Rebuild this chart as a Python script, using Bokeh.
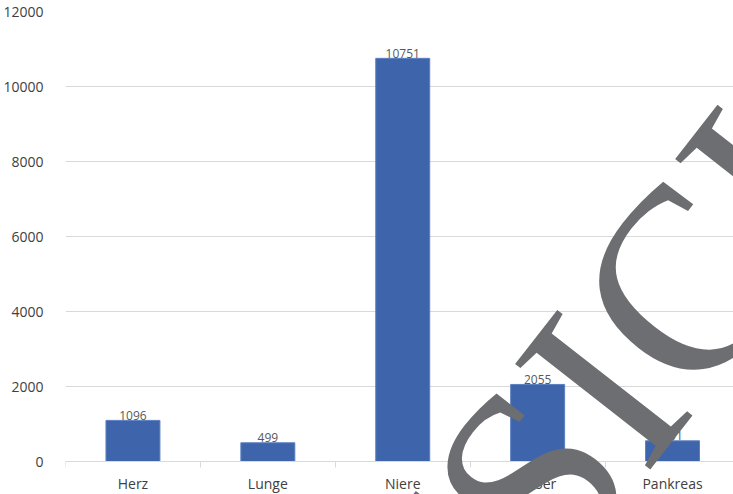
from bokeh.plotting import figure
from bokeh.models import ColumnDataSource, FixedTicker, Range1d, Label
from bokeh.core.properties import value
from bokeh.embed import file_html
from bokeh.resources import INLINE

# --- data ---
organs = ["Herz", "Lunge", "Niere", "Leber", "Pankreas"]
counts = [1096, 499, 10751, 2055, 551]
y_ticks = [0, 2000, 4000, 6000, 8000, 10000, 12000]

centers = [i + 0.5 for i in range(len(organs))]
bounds = list(range(len(organs) + 1))
source = ColumnDataSource(data=dict(x=centers, top=counts, label=[str(c) for c in counts]))

FONT = "Open Sans"
BAR = "#3e64ac"

W, H = 733, 494
LEFT, TOP = 63, 11
CAT_PX = 135.3           # pixel width of one category
Y_PX = 450 / 12000       # pixels per unit on the value axis
y_bottom = -(H - 461) / Y_PX   # room below the zero line for the category labels

p = figure(width=W, height=H, output_backend="svg", toolbar_location=None,
           x_range=Range1d(0, (W - LEFT) / CAT_PX), y_range=Range1d(y_bottom, 12000),
           min_border_left=LEFT, min_border_right=0, min_border_top=TOP, min_border_bottom=0)
p.outline_line_color = None
p.background_fill_color = "white"
p.border_fill_color = "white"

p.vbar(x="x", top="top", bottom=0, width=0.4, source=source,
       fill_color=BAR, line_color="#5b7fc1", line_width=1)
p.text(x="x", y="top", text="label", source=source, text_align="center", text_baseline="alphabetic",
       y_offset=-5, text_font=value(FONT), text_font_size="12px", text_color="#595959")

# y axis
p.yaxis.ticker = FixedTicker(ticks=y_ticks)
p.yaxis.axis_line_color = None
p.yaxis.major_tick_line_color = None
p.yaxis.minor_tick_line_color = None
p.yaxis.major_label_text_font = FONT
p.yaxis.major_label_text_font_size = "14px"
p.yaxis.major_label_text_color = "#404040"
p.yaxis.major_label_standoff = 16
p.ygrid.ticker = FixedTicker(ticks=y_ticks)
p.ygrid.grid_line_color = "#d9d9d9"
p.ygrid.grid_line_width = 1

# x axis, drawn on the zero line
p.xaxis.fixed_location = 0
p.xaxis.ticker = FixedTicker(ticks=centers, minor_ticks=bounds)
p.xaxis.major_label_overrides = {c: o for c, o in zip(centers, organs)}
p.xaxis.axis_line_color = "#d9d9d9"
p.xaxis.major_tick_line_color = None
p.xaxis.minor_tick_line_color = "#d9d9d9"
p.xaxis.minor_tick_in = 0
p.xaxis.minor_tick_out = 6
p.xaxis.major_tick_in = 0
p.xaxis.major_tick_out = 6
p.xaxis.major_label_text_font = FONT
p.xaxis.major_label_text_font_size = "14px"
p.xaxis.major_label_text_color = "#404040"
p.xaxis.major_label_standoff = 6
p.xgrid.grid_line_color = None

# watermark
wm = Label(x=(601 - LEFT) / CAT_PX, y=(461 - 388) / Y_PX, text="ANSICHT", angle=52, angle_units="deg",
           text_align="center", text_baseline="middle", level="overlay",
           text_font="Liberation Serif", text_font_size="262px", text_color="#6d6e71")
p.add_layout(wm)

open("out.html", "w").write(file_html(p, INLINE))
